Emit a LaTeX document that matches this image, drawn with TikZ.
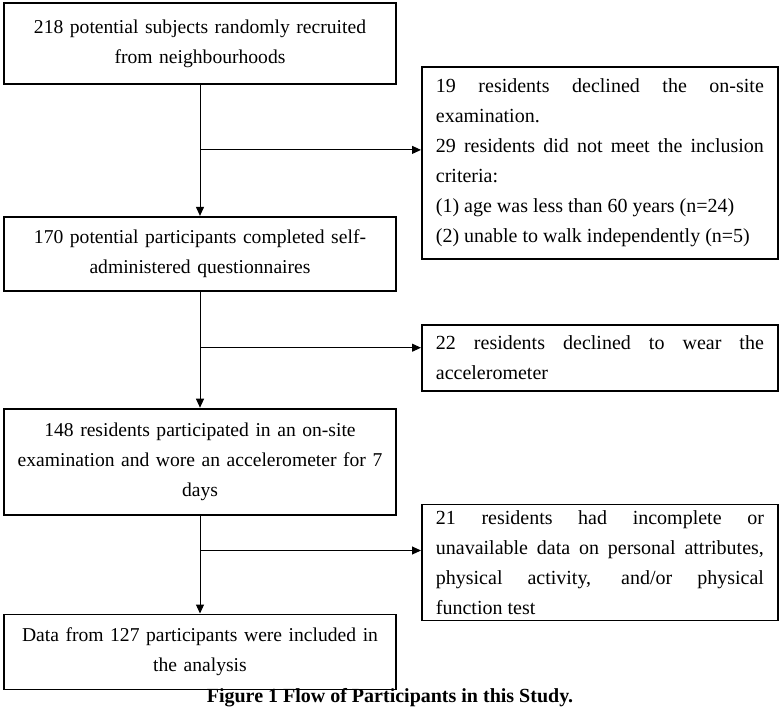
\documentclass[tikz,border=0pt]{standalone}
\usepackage{fontspec}
\setmainfont{Liberation Serif}
\usetikzlibrary{positioning, arrows.meta}

\begin{document}
\begin{tikzpicture}[font=\fontsize{20pt}{30pt}\selectfont]
    % Define styles
    \tikzstyle{process} = [rectangle, minimum width=392pt, text width=388pt, inner xsep=2pt, inner ysep=6pt, align=center, draw=black, line width=1.8pt, font=\fontsize{19.6pt}{30pt}\selectfont]
    \tikzstyle{note} = [rectangle, minimum width=356pt, text width=328pt, inner xsep=14pt, inner ysep=6pt, align=justify, draw=black, line width=1.8pt, anchor=west]
    \tikzstyle{arrow} = [line width=1pt, -{Triangle[length=9pt,width=8pt]}]

    \useasboundingbox (0pt,0pt) rectangle (780pt,-715pt);

    % Nodes
    \node (recruit) [process, minimum height=81pt] at (200pt,-43.5pt) {218 potential subjects randomly recruited\\ from neighbourhoods};
    \coordinate [below=65pt of recruit] (split1);
    \node (survey) [process, minimum height=74pt, below=131pt of recruit] {170 potential participants completed self-\\ administered questionnaires};
    \coordinate [below=56pt of survey] (split2);
    \node (exam) [process, minimum height=106pt, below=116pt of survey] {148 residents participated in an on-site\\ examination and wore an accelerometer for 7\\ days};
    \coordinate [below=35pt of exam] (split3);
    \node (final) [process, minimum height=75pt, below=98pt of exam] {Data from 127 participants were included in\\ the analysis};

    \node (declined) [note, minimum height=192pt, right=221pt of split1, yshift=-13pt] {19 residents declined the on-site\linebreak examination.\\ 29 residents did not meet the inclusion\linebreak criteria:\\ (1) age was less than 60 years (n=24)\\ (2) unable to walk independently (n=5)};
    \node (nowear) [note, minimum height=66pt, right=221pt of split2, yshift=-10pt] {22 residents declined to wear the\linebreak accelerometer};
    \node (missing) [note, minimum height=116pt, right=221pt of split3, yshift=-12pt] {21 residents had incomplete or\linebreak unavailable data on personal attributes,\linebreak physical activity, and/or physical\linebreak function test};

    \node (caption) [font=\fontsize{20pt}{30pt}\selectfont\bfseries] at (390pt,-698pt) {Figure 1 Flow of Participants in this Study.};

    % Arrows
    \draw [arrow] (recruit) -- (survey);
    \draw [arrow] (survey) -- (exam);
    \draw [arrow] (exam) -- (final);
    \draw [arrow] (split1) -- (split1 -| declined.west);
    \draw [arrow] (split2) -- (split2 -| nowear.west);
    \draw [arrow] (split3) -- (split3 -| missing.west);
\end{tikzpicture}
\end{document}
